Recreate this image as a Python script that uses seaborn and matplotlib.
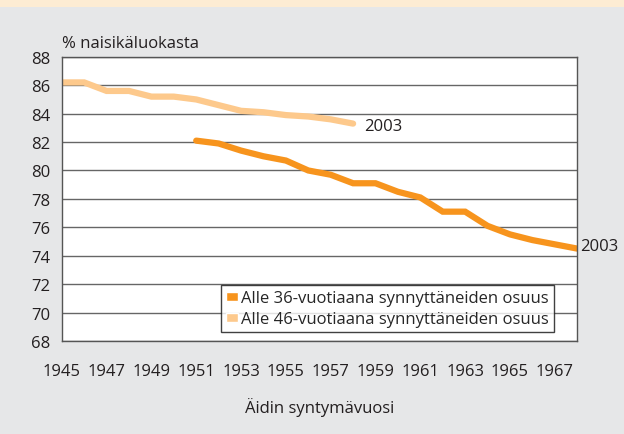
import matplotlib
matplotlib.use("Agg")
import matplotlib.pyplot as plt
from matplotlib.patches import Patch, Rectangle
import seaborn as sns
import pandas as pd
import numpy as np

sns.set_style("white")
plt.rcParams['font.family'] = ['Liberation Sans Narrow', 'Open Sans', 'DejaVu Sans']

# data
years_36 = [1951, 1952, 1953, 1954, 1955, 1956, 1957, 1958, 1959,
            1960, 1961, 1962, 1963, 1964, 1965, 1966, 1967, 1968]
share_36 = [82.1, 81.9, 81.4, 81.0, 80.7, 80.0, 79.7, 79.1, 79.1,
            78.5, 78.1, 77.1, 77.1, 76.1, 75.5, 75.1, 74.8, 74.5]
years_46 = [1945, 1946, 1947, 1948, 1949, 1950, 1951,
            1952, 1953, 1954, 1955, 1956, 1957, 1958]
share_46 = [86.2, 86.2, 85.6, 85.6, 85.2, 85.2, 85.0,
            84.6, 84.2, 84.1, 83.9, 83.8, 83.6, 83.3]
label_36 = "Alle 36-vuotiaana synnyttäneiden osuus"
label_46 = "Alle 46-vuotiaana synnyttäneiden osuus"
end_label = "2003"
year_ticks = list(range(1945, 1969))
y_ticks = list(range(68, 90, 2))

c_dark = "#f7941d"
c_light = "#fdc98c"
bg = "#e6e7e8"
txt = "#231f20"
fs = 12

df = pd.concat([
    pd.DataFrame({"year": years_36, "share": share_36, "series": label_36}),
    pd.DataFrame({"year": years_46, "share": share_46, "series": label_46}),
])

fig = plt.figure(figsize=(6.24, 4.35), dpi=100, facecolor=bg)
fig.patches.append(Rectangle((0, 0.982), 1, 0.018, transform=fig.transFigure,
                             facecolor="#fdecd3", edgecolor="none"))
ax = fig.add_axes([0.099, 0.214, 0.826, 0.653])
ax.set_facecolor("white")

sns.lineplot(data=df, x="year", y="share", hue="series",
             palette={label_36: c_dark, label_46: c_light},
             linewidth=4.5, ax=ax, legend=False, solid_joinstyle="miter")

ax.set_xlim(1945, 1968)
ax.set_ylim(68, 88)
ax.set_yticks(y_ticks)
ax.set_xticks(year_ticks)
ax.set_xticklabels([str(y) if (y - 1945) % 2 == 0 and y < 1968 else "" for y in year_ticks])
ax.yaxis.grid(True, color="#666666", linewidth=1)
ax.set_axisbelow(True)
for s in ax.spines.values():
    s.set_color("#555555")
    s.set_linewidth(1)
ax.tick_params(axis="both", direction="out", length=5, width=1, color="#555555",
               labelsize=fs, labelcolor=txt, pad=3)
ax.tick_params(axis="x", pad=11)

ax.set_xlabel("Äidin syntymävuosi", fontsize=fs, color=txt, labelpad=13)
ax.set_ylabel("")
ax.text(0.0, 1.02, "% naisikäluokasta", transform=ax.transAxes, fontsize=fs,
        color=txt, ha="left", va="bottom")

ax.annotate(end_label, (years_46[-1], share_46[-1]), xytext=(8, -2),
            textcoords="offset points", fontsize=fs, color=txt, va="center")
ax.annotate(end_label, (years_36[-1], share_36[-1]), xytext=(2, 2),
            textcoords="offset points", fontsize=fs, color=txt, va="center",
            annotation_clip=False)

handles = [Patch(facecolor=c_dark, label=label_36), Patch(facecolor=c_light, label=label_46)]
leg = ax.legend(handles=handles, loc="lower right", bbox_to_anchor=(0.955, 0.03),
                frameon=True, fancybox=False, edgecolor="#111111", fontsize=fs,
                handlelength=0.7, handleheight=0.45, handletextpad=0.2,
                borderpad=0.3, labelspacing=0.3, borderaxespad=0)
leg.get_frame().set_linewidth(1)

fig.savefig("out.png", dpi=100, facecolor=bg)
